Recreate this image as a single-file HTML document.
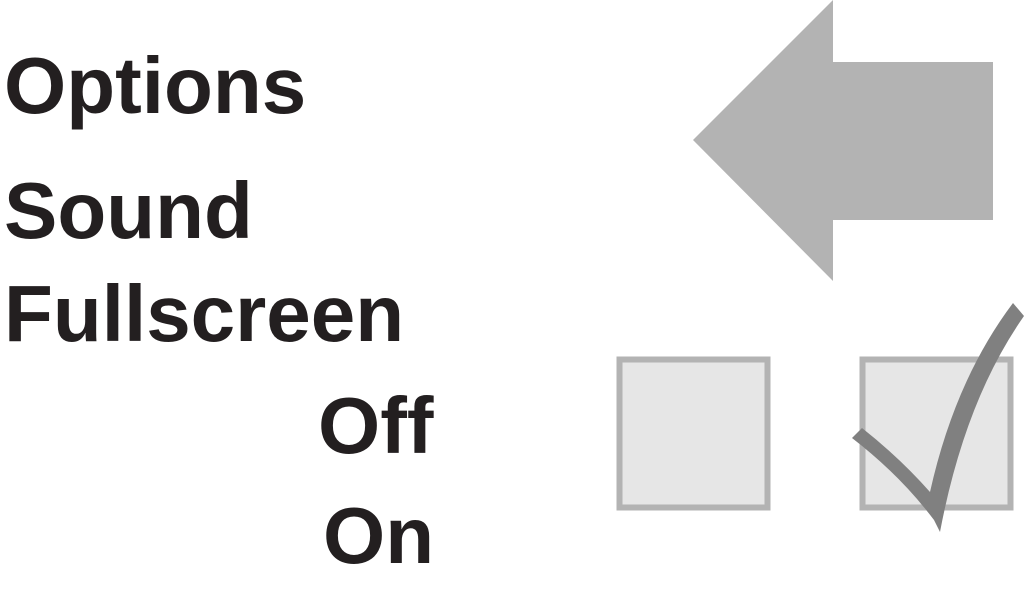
<!DOCTYPE html>
<html><head><meta charset="utf-8"><style>
html,body{margin:0;padding:0;background:#fff;width:1025px;height:589px;overflow:hidden}
.t{position:absolute;font-family:"Liberation Sans",sans-serif;font-weight:bold;font-size:80px;color:#231f20;line-height:1;margin:0}
svg{position:absolute;left:0;top:0}
</style></head><body>
<div class="t" style="left:4px;top:46px">Options</div>
<div class="t" style="left:4px;top:171px">Sound</div>
<div class="t" style="left:4px;top:274px">Fullscreen</div>
<div class="t" style="left:318px;top:386px">Off</div>
<div class="t" style="left:323px;top:496px">On</div>
<svg width="1025" height="589">
<g fill="#b3b3b3">
<polygon points="693,140 833,0 833,281"/>
<rect x="833" y="62" width="160" height="158"/>
</g>
<rect x="619.5" y="359.5" width="148" height="148" fill="#e6e6e6" stroke="#b3b3b3" stroke-width="6"/>
<rect x="862.5" y="359.5" width="148" height="148" fill="#e6e6e6" stroke="#b3b3b3" stroke-width="6"/>
<path fill="#808080" d="M852,438 L862,428 Q900,458 930,492 Q955,380 1013,303 L1024,316 Q965,400 940,532 L934,520 Q900,475 852,438 Z"/>
</svg>
</body></html>
